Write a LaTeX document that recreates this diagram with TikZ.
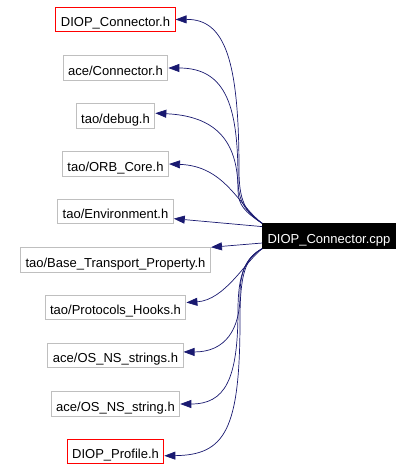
\documentclass[tikz,border=0pt]{standalone}
\usepackage{fontspec}
\setmainfont{Liberation Sans}
\usetikzlibrary{arrows.meta}
\definecolor{edgeblue}{HTML}{191970}
\definecolor{boxgray}{HTML}{BFBFBF}
\definecolor{boxred}{RGB}{255,0,0}
\begin{document}
\begin{tikzpicture}[x=1pt, y=-1pt,
        header/.style={rectangle, line width=1pt, font=\fontsize{13pt}{15pt}\selectfont,
            minimum height=24.5pt, inner xsep=5pt, inner ysep=0pt, text height=14.5pt, text depth=0pt},
        otherheader/.style={header, draw=boxgray},
        ownheader/.style={header, draw=boxred},
        source/.style={header, draw=black, fill=black, text=white},
        dep/.style={draw=edgeblue, line width=0.7pt, -{Triangle[length=11pt, width=8pt]}}
    ]
        \useasboundingbox (0,0) rectangle (414,470);

        % Quelldatei
        \node[source] (cpp) at (329,236) {DIOP\_Connector.cpp};

        % Eingebundene Header
        \node[ownheader]   (h1)  at (115.5,19.5)  {DIOP\_Connector.h};
        \node[otherheader] (h2)  at (115.5,68)    {ace/Connector.h};
        \node[otherheader] (h3)  at (115.5,116)   {tao/debug.h};
        \node[otherheader] (h4)  at (115.5,164)   {tao/ORB\_Core.h};
        \node[otherheader] (h5)  at (115.5,211.5) {tao/Environment.h};
        \node[otherheader] (h6)  at (115.5,260)   {tao/Base\_Transport\_Property.h};
        \node[otherheader] (h7)  at (115.5,307.5) {tao/Protocols\_Hooks.h};
        \node[otherheader] (h8)  at (115.5,355.5) {ace/OS\_NS\_strings.h};
        \node[otherheader] (h9)  at (115.5,404)   {ace/OS\_NS\_string.h};
        \node[ownheader]   (h10) at (115.5,451.5) {DIOP\_Profile.h};

        % Abhaengigkeiten
        \draw[dep] (cpp.north west) .. controls (245,212) and (239,200) .. (239,170)
            .. controls (239,60) and (225,19) .. (h1.east);
        \draw[dep] (cpp.north west) .. controls (245,212) and (238,200) .. (238,180)
            .. controls (238,110) and (228,68) .. (h2.east);
        \draw[dep] (cpp.north west) .. controls (245,212) and (238,205) .. (238,190)
            .. controls (238,140) and (215,116) .. (h3.4);
        \draw[dep] (cpp.north west) .. controls (238,205) and (225,166) .. (h4.east);
        \draw[dep] (cpp.172) -- (h5.-7);
        \draw[dep] (cpp.186) -- (h6.north east);
        \draw[dep] (cpp.south west) .. controls (245,262) and (225,300) .. (h7.4);
        \draw[dep] (cpp.south west) .. controls (248,256) and (240,270) .. (240,295)
            .. controls (240,330) and (225,352) .. (h8.3);
        \draw[dep] (cpp.south west) .. controls (245,258) and (238,275) .. (238,310)
            .. controls (238,380) and (225,404) .. (h9.east);
        \draw[dep] (cpp.south west) .. controls (245,258) and (240,275) .. (240,320)
            .. controls (240,430) and (225,455) .. (h10.-5);
    \end{tikzpicture}
\end{document}
